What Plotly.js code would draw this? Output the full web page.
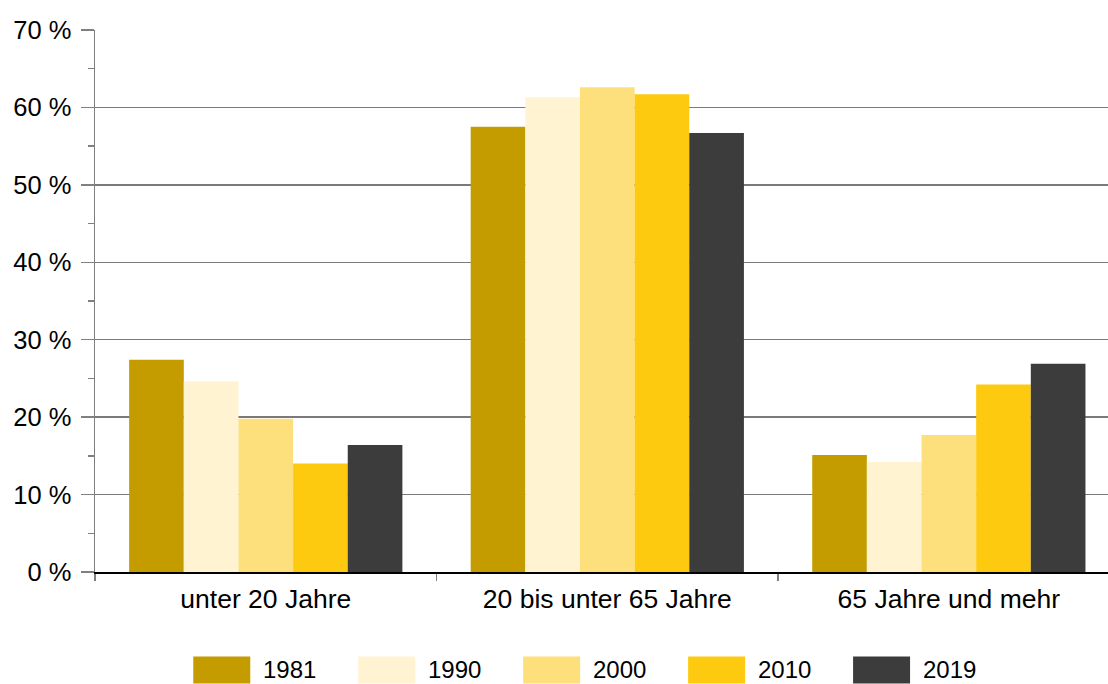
<!DOCTYPE html>
<html>
<head>
<meta charset="utf-8">
<script src="https://cdn.plot.ly/plotly-3.0.1.min.js"></script>
<style>html,body{margin:0;padding:0;background:#fff}#chart{width:1108px;height:684px}</style>
</head>
<body>
<div id="chart"></div>
<script>
var categories = ["unter 20 Jahre", "20 bis unter 65 Jahre", "65 Jahre und mehr"];
var years = ["1981", "1990", "2000", "2010", "2019"];
var v1981 = [27.4, 57.5, 15.1];
var v1990 = [24.6, 61.3, 14.2];
var v2000 = [19.8, 62.6, 17.7];
var v2010 = [14.0, 61.7, 24.2];
var v2019 = [16.4, 56.7, 26.9];
var colors = ["#C49C00", "#FFF3D1", "#FDE07B", "#FDCA0F", "#3C3C3C"];
var yTickVals = [0, 10, 20, 30, 40, 50, 60, 70];

var series = [v1981, v1990, v2000, v2010, v2019];
var FONT = "Liberation Sans, Arial, sans-serif";

var traces = series.map(function (vals, i) {
  return {
    type: "bar",
    name: years[i],
    x: categories,
    y: vals,
    marker: { color: colors[i], line: { width: 0 } },
    hoverinfo: "skip"
  };
});

// legend drawn as shapes + annotations (large rectangles like the reference)
var W = 1108, H = 684, ML = 94.7, MT = 30, MB = 111.5;
var pw = W - ML, ph = H - MT - MB;
function px2x(p) { return (p - ML) / pw; }
function py2y(p) { return (H - MB - p) / ph; }
var shapes = [], annotations = [];
years.forEach(function (yr, i) {
  var x0 = 193 + i * 165;
  shapes.push({
    type: "rect", xref: "paper", yref: "paper",
    x0: px2x(x0), x1: px2x(x0 + 57), y0: py2y(684), y1: py2y(657),
    fillcolor: colors[i], line: { width: 0 }
  });
  annotations.push({
    xref: "paper", yref: "paper", x: px2x(x0 + 68), y: py2y(670.5),
    xanchor: "left", yanchor: "middle", showarrow: false,
    text: yr, font: { family: FONT, size: 24, color: "#000" }
  });
});

var layout = {
  width: W, height: H,
  margin: { l: ML, r: 0, t: MT, b: MB, pad: 0 },
  paper_bgcolor: "#fff", plot_bgcolor: "#fff",
  showlegend: false,
  barmode: "group",
  bargap: 0.2, bargroupgap: 0,
  font: { family: FONT, size: 25, color: "#000" },
  xaxis: {
    type: "category",
    range: [-0.5, 2.466],
    showline: true, linecolor: "#000", linewidth: 1.5,
    ticks: "outside", tickson: "boundaries", ticklen: 7, tickcolor: "#808080", tickwidth: 1.5,
    showgrid: false, zeroline: false,
    tickfont: { family: FONT, size: 26.5, color: "#000" },
    ticklabelstandoff: 3
  },
  yaxis: {
    range: [0, 70],
    tickmode: "array", tickvals: yTickVals,
    ticktext: yTickVals.map(function (v) { return v + " %"; }),
    showline: true, linecolor: "#7f7f7f", linewidth: 1.5,
    ticks: "outside", ticklen: 13, tickcolor: "#808080", tickwidth: 1.5,
    showgrid: true, gridcolor: "#7a7a7a", gridwidth: 1.5,
    zeroline: false,
    minor: { dtick: 5, tick0: 0, ticks: "outside", ticklen: 6, tickcolor: "#808080", tickwidth: 1.5, showgrid: false },
    tickfont: { family: FONT, size: 25.5, color: "#000" },
    ticklabelstandoff: 4
  },
  shapes: shapes,
  annotations: annotations
};

Plotly.newPlot("chart", traces, layout, { staticPlot: true, displayModeBar: false });
</script>
</body>
</html>
